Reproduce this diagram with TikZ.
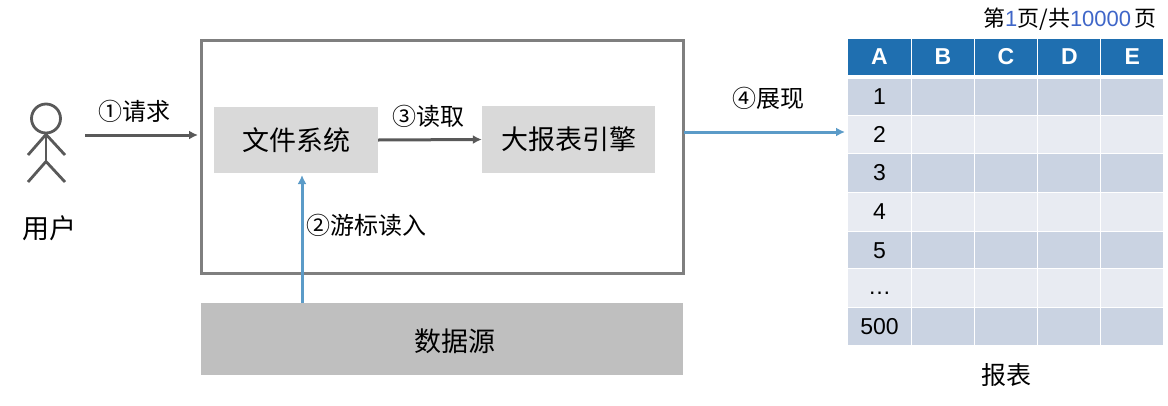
\documentclass[tikz,border=0pt]{standalone}
\usepackage{fontspec}
\setmainfont{Liberation Sans}
\newfontfamily\cjk{Noto Sans CJK SC}
\usetikzlibrary{arrows.meta}
\definecolor{framegray}{HTML}{7F7F7F}
\definecolor{stickgray}{HTML}{595959}
\definecolor{boxgray}{HTML}{D9D9D9}
\definecolor{sourcegray}{HTML}{BFBFBF}
\definecolor{flowblue}{HTML}{5B9BC8}
\definecolor{headblue}{HTML}{1F6FB0}
\definecolor{rowdark}{HTML}{CAD3E2}
\definecolor{rowlight}{HTML}{E8EBF2}
\definecolor{pageblue}{HTML}{3F66C8}
\tikzset{
  label/.style={inner sep=0pt,font=\cjk\fontsize{24}{24}\selectfont},
  engine/.style={inner sep=0pt,fill=boxgray,font=\cjk\fontsize{27}{27}\selectfont},
  grayflow/.style={draw=stickgray,line width=3pt,-{Latex[length=9pt,width=9pt]}},
  blueflow/.style={draw=flowblue,line width=3pt,-{Latex[length=9pt,width=9pt]}},
  cell/.style={inner sep=0pt,anchor=north west,font=\fontsize{23}{23}\selectfont},
  headtext/.style={cell,text=white,anchor=center,font=\bfseries\fontsize{23}{23}\selectfont}
}
% #1 row name, #2 top, #3 height, #4 fill, #5 first column text
\newcommand\reportrow[5]{%
  \node[cell,fill=#4,minimum width=62.6pt,minimum height=#3pt] (#1a) at (848,#2) {#5};
  \node[cell,fill=#4,minimum width=62.2pt,minimum height=#3pt] (#1b) at (911.6,#2) {};
  \node[cell,fill=#4,minimum width=62.2pt,minimum height=#3pt] (#1c) at (974.6,#2) {};
  \node[cell,fill=#4,minimum width=62.2pt,minimum height=#3pt] (#1d) at (1038,#2) {};
  \node[cell,fill=#4,minimum width=62.2pt,minimum height=#3pt] (#1e) at (1101,#2) {};
}
\begin{document}
\begin{tikzpicture}[x=1pt,y=-1pt]
  \useasboundingbox (0,0) rectangle (1168,405);

  % The user
  \node[draw=stickgray,line width=2.8pt,circle,minimum size=29pt,inner sep=0pt] (head) at (46,118.5) {};
  \coordinate (hip) at (46,161.5);
  \draw[stickgray,line width=2.8pt] (head.south) -- (hip);
  \draw[stickgray,line width=2.8pt] (28,155) -- (head.south) -- (65,155);
  \draw[stickgray,line width=2.8pt] (28,182) -- (hip) -- (65,182);
  \node[label,font=\cjk\fontsize{27}{27}\selectfont] (user) at (49.5,228) {用户};

  % The system
  \node[draw=framegray,line width=3pt,minimum width=482pt,minimum height=233pt,inner sep=0pt] (system) at (442.5,157) {};
  \node[engine,minimum width=164pt,minimum height=66pt] (files) at (296,140) {文件系统};
  \node[engine,minimum width=173pt,minimum height=67pt] (engine) at (568.5,139.5) {大报表引擎};
  \node[engine,fill=sourcegray,minimum width=482pt,minimum height=72pt] at (442,339) (source) {};
  \node[inner sep=0pt,font=\cjk\fontsize{27}{27}\selectfont] (sourcetext) at (454.5,341) {数据源};

  % The arrows
  \coordinate (start) at (85,135);
  \coordinate (sourceout) at (302,303);
  \coordinate (filesin) at (302,175);
  \coordinate (reportin) at (845,132);
  \coordinate (systemout) at (684,132);
  \draw[grayflow] (start) -- (198,135);
  \draw[blueflow] (sourceout) -- (filesin);
  \draw[grayflow] (files.east) -- (engine.west);
  \draw[blueflow] (systemout) -- (reportin);
  \node[label] (request) at (134,111) {①请求};
  \node[label] (cursor) at (366,225) {②游标读入};
  \node[label] (read) at (428.5,116) {③读取};
  \node[label] (show) at (768,98) {④展现};

  % The report
  \node[label,font=\cjk\fontsize{22}{22}\selectfont] (page) at (1070,19.5) {第{\normalfont\color{pageblue}1}页/共{\normalfont\color{pageblue}10000}\,页};
  \reportrow{h}{39}{35.7}{headblue}{\bfseries\color{white}A}
  \node[headtext] (hbt) at (hb) {B};
  \node[headtext] (hct) at (hc) {C};
  \node[headtext] (hdt) at (hd) {D};
  \node[headtext] (het) at (he) {E};
  \reportrow{ra}{78.7}{36}{rowdark}{1}
  \reportrow{rb}{115.5}{37.5}{rowlight}{2}
  \reportrow{rc}{154}{37.7}{rowdark}{3}
  \reportrow{rd}{192.5}{38.5}{rowlight}{4}
  \reportrow{re}{232}{36}{rowdark}{5}
  \reportrow{rf}{268.7}{38.3}{rowlight}{\raisebox{-6pt}[0pt][0pt]{…}}
  \reportrow{rg}{308}{37}{rowdark}{500}
  \node[label,font=\cjk\fontsize{25}{25}\selectfont] (report) at (1006,375) {报表};
\end{tikzpicture}
\end{document}
